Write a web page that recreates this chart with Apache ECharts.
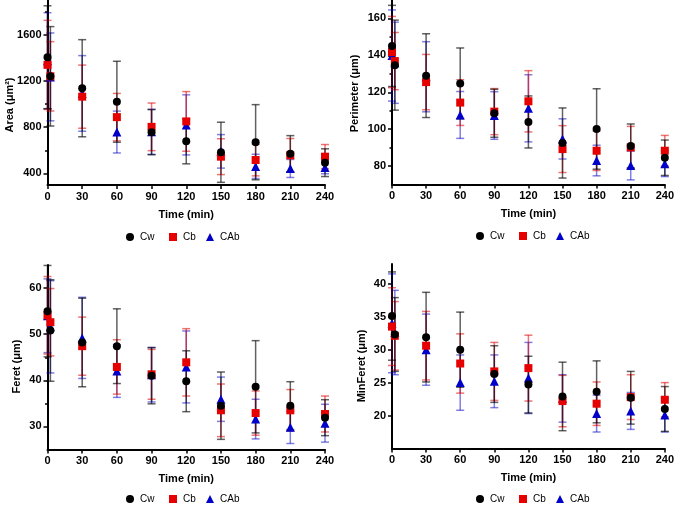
<!DOCTYPE html>
<html><head><meta charset="utf-8">
<script src="https://cdn.jsdelivr.net/npm/echarts@6/dist/echarts.min.js"></script>
<style>html,body{margin:0;padding:0;background:#fff}#c{width:677px;height:508px}</style>
</head><body><div id="c"></div>
<script>
const times = [0, 2.5, 30, 60, 90, 120, 150, 180, 210, 240];
const xTicks = [0, 30, 60, 90, 120, 150, 180, 210, 240];
const seriesNames = ['Cw', 'Cb', 'CAb'];

const areaCw = [1405, 1240, 1137, 1020, 757, 678, 583, 670, 571, 493];
const areaCwSd = [445, 430, 420, 350, 195, 195, 260, 325, 156, 120];
const areaCb = [1339, 1240, 1064, 887, 803, 850, 545, 516, 557, 545];
const areaCbSd = [385, 300, 273, 205, 206, 258, 155, 137, 145, 105];
const areaCAb = [1375, 1235, 1092, 758, 760, 820, 591, 461, 443, 452];
const areaCAbSd = [415, 380, 327, 181, 195, 260, 145, 105, 78, 55];

const perCw = [145.1, 134.7, 129.0, 124.8, 108.6, 103.9, 92.5, 100.1, 90.9, 84.5];
const perCwSd = [22, 24.4, 22.7, 19.2, 13, 14.1, 19, 21.8, 11.9, 9.6];
const perCb = [141.8, 136.9, 125.5, 114.4, 109.5, 115.1, 89.2, 88.3, 90.1, 88.3];
const perCbSd = [19.3, 15.5, 15, 12.4, 12.5, 16.6, 12.7, 10.7, 11.4, 8.3];
const perCAb = [139.9, 136, 128.4, 107.7, 107.4, 111.3, 94.7, 83, 80.3, 81.3];
const perCAbSd = [24.7, 22, 19, 12.7, 12.9, 18.2, 10.9, 8.3, 7.8, 7];

const ferCw = [55.0, 50.8, 48.2, 47.4, 41.0, 39.8, 34.5, 38.6, 34.5, 31.9];
const ferCwSd = [9.9, 11, 9.6, 8.1, 6.1, 6.6, 7.3, 10, 5.2, 3.9];
const ferCb = [54.1, 52.6, 47.4, 42.9, 41.3, 43.9, 33.5, 32.9, 33.5, 32.7];
const ferCbSd = [8.4, 7.3, 6.3, 5.9, 5.4, 7.3, 5.7, 4.8, 4.5, 3.9];
const ferCAb = [54, 51.6, 49.2, 42.0, 41.2, 42.9, 35.9, 31.6, 29.8, 30.7];
const ferCAbSd = [8, 10, 8.8, 5.7, 5.9, 7.8, 4.8, 4.3, 3.5, 4.1];

const minCw = [35.1, 32.3, 31.9, 30.0, 26.3, 24.7, 22.9, 23.6, 22.7, 21.0];
const minCwSd = [6.7, 5.6, 6.8, 5.7, 4.3, 4.3, 5.2, 4.7, 4.0, 3.4];
const minCb = [33.5, 32.1, 30.6, 27.9, 26.7, 27.2, 22.2, 21.8, 22.8, 22.4];
const minCbSd = [5.9, 5.2, 5.2, 4.5, 4.4, 5.0, 3.9, 3.3, 3.4, 2.6];
const minCAb = [34, 32.6, 30.0, 25.0, 25.2, 25.7, 22.6, 20.3, 20.7, 20.1];
const minCAbSd = [7.5, 6.4, 5.4, 4.2, 4, 5.4, 3.6, 2.8, 2.8, 2.6];

const areaTicks = [400, 800, 1200, 1600];
const areaMinor = [600, 1000, 1400, 1800];
const perTicks = [80, 100, 120, 140, 160];
const perMinor = [90, 110, 130, 150];
const ferTicks = [30, 40, 50, 60];
const ferMinor = [35, 45, 55];
const minTicks = [20, 25, 30, 35, 40];
const minMinor = [];

const FONT = 'Liberation Sans, Arial, sans-serif';
const colors = ['#000000', '#e60000', '#0000c8'];
const barColors = ['rgba(0,0,0,0.62)', 'rgba(225,0,0,0.55)', 'rgba(0,0,200,0.5)'];
const symbols = ['circle', 'rect', 'triangle'];

const panels = [
  {title: 'Area (\u03bcm\u00b2)', min: 300, max: 1900, ticks: areaTicks, minor: areaMinor,
   data: [[areaCw, areaCwSd], [areaCb, areaCbSd], [areaCAb, areaCAbSd]],
   grid: {left: 47.5, top: 0, width: 277.5, height: 185}, ttl: [10, 105], leg: [130, 238]},
  {title: 'Perimeter (\u03bcm)', min: 70, max: 170, ticks: perTicks, minor: perMinor,
   data: [[perCw, perCwSd], [perCb, perCbSd], [perCAb, perCAbSd]],
   grid: {left: 392, top: 0, width: 277, height: 184.5}, ttl: [355, 93.5], leg: [480, 237]},
  {title: 'Feret (\u03bcm)', min: 25, max: 65, ticks: ferTicks, minor: ferMinor,
   data: [[ferCw, ferCwSd], [ferCb, ferCbSd], [ferCAb, ferCAbSd]],
   grid: {left: 47.5, top: 265, width: 277.5, height: 184.5}, ttl: [16.5, 366.5], leg: [130, 500]},
  {title: 'MinFeret (\u03bcm)', min: 15, max: 43, ticks: minTicks, minor: minMinor,
   data: [[minCw, minCwSd], [minCb, minCbSd], [minCAb, minCAbSd]],
   grid: {left: 392, top: 264, width: 277, height: 184.5}, ttl: [362, 366], leg: [480, 500]}
];
const legOffsets = [0, 43, 80];

const option = {animation: false, backgroundColor: '#fff', grid: [], xAxis: [], yAxis: [], series: [], legend: [], graphic: []};

panels.forEach((p, gi) => {
  option.grid.push(Object.assign({containLabel: false}, p.grid));
  option.xAxis.push({
    type: 'value', gridIndex: gi, min: 0, max: 240, interval: 30,
    axisLine: {show: true, onZero: false, lineStyle: {color: '#000', width: 2}},
    axisTick: {show: true, length: 4, lineStyle: {color: '#000', width: 1.5}},
    axisLabel: {color: '#000', fontWeight: 'bold', fontSize: 11, fontFamily: FONT, margin: 6},
    splitLine: {show: false},
    name: 'Time (min)', nameLocation: 'middle', nameGap: 24,
    nameTextStyle: {color: '#000', fontWeight: 'bold', fontSize: 11, fontFamily: FONT}
  });
  option.yAxis.push({
    type: 'value', gridIndex: gi, min: p.min, max: p.max,
    axisLine: {show: true, onZero: false, lineStyle: {color: '#000', width: 2}},
    axisTick: {show: true, length: 4, customValues: p.ticks, lineStyle: {color: '#000', width: 1.5}},
    axisLabel: {color: '#000', fontWeight: 'bold', fontSize: 11, fontFamily: FONT, margin: 6,
      customValues: p.ticks, formatter: v => String(v)},
    splitLine: {show: false}
  });
  const yMain = option.yAxis.length - 1;
  if (p.minor.length) {
    option.yAxis.push({
      type: 'value', gridIndex: gi, min: p.min, max: p.max, position: 'left',
      axisLine: {show: false},
      axisTick: {show: true, length: 2.5, customValues: p.minor, lineStyle: {color: '#000', width: 1.5}},
      axisLabel: {show: false, customValues: p.minor},
      splitLine: {show: false}
    });
  }
  // error bars
  [2, 1, 0].forEach(si => {
    const vals = p.data[si][0], sd = p.data[si][1];
    option.series.push({
      type: 'custom', xAxisIndex: gi, yAxisIndex: yMain, z: 2 + (2 - si) * 0.1,
      data: times.map((t, i) => [t, vals[i] - sd[i], vals[i] + sd[i]]),
      renderItem: (params, api) => {
        const lo = api.coord([api.value(0), api.value(1)]);
        const hi = api.coord([api.value(0), api.value(2)]);
        const w = 4;
        const st = {stroke: barColors[si], lineWidth: 1.5};
        return {type: 'group', children: [
          {type: 'line', shape: {x1: lo[0], y1: lo[1], x2: hi[0], y2: hi[1]}, style: st},
          {type: 'line', shape: {x1: lo[0] - w, y1: lo[1], x2: lo[0] + w, y2: lo[1]}, style: st},
          {type: 'line', shape: {x1: hi[0] - w, y1: hi[1], x2: hi[0] + w, y2: hi[1]}, style: st}
        ]};
      },
      silent: true
    });
  });
  // markers
  [2, 1, 0].forEach(si => {
    const vals = p.data[si][0];
    option.series.push({
      type: 'scatter', name: seriesNames[si], xAxisIndex: gi, yAxisIndex: yMain,
      symbol: symbols[si], symbolSize: si === 2 ? 9 : 8, z: 5 + (2 - si),
      itemStyle: {color: colors[si], opacity: 1},
      data: times.map((t, i) => [t, vals[i]])
    });
  });
  // legends
  seriesNames.forEach((n, si) => {
    option.legend.push({
      data: [{name: n, icon: symbols[si]}], selectedMode: false,
      left: p.leg[0] + legOffsets[si] - 4, top: p.leg[1] - 6,
      itemWidth: 8, itemHeight: 8, itemGap: 0, padding: 0,
      textStyle: {color: '#000', fontSize: 10, fontFamily: FONT, padding: [0, 0, 0, 1]}
    });
  });
  option.graphic.push({
    type: 'text', x: p.ttl[0], y: p.ttl[1], rotation: Math.PI / 2,
    style: {text: p.title, fill: '#000', font: 'bold 11px ' + FONT, textAlign: 'center', textVerticalAlign: 'middle'}
  });
});

const chart = echarts.init(document.getElementById('c'), null, {renderer: 'canvas', width: 677, height: 508});
chart.setOption(option);
</script></body></html>
